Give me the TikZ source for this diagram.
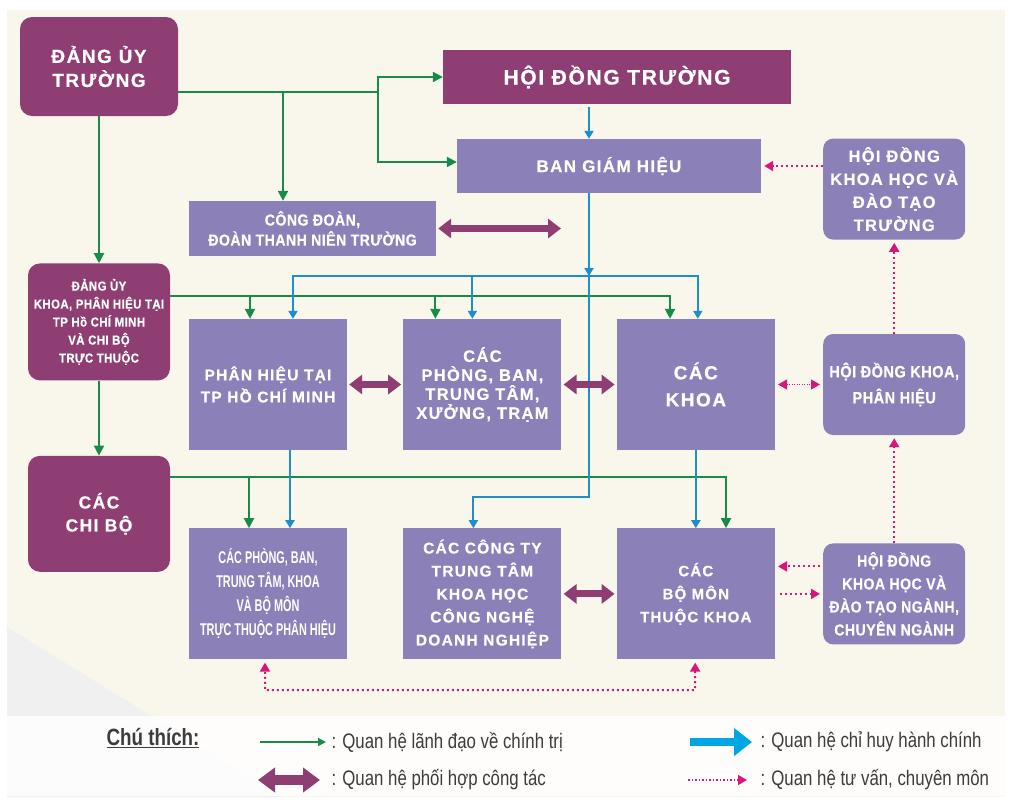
\documentclass[tikz,border=0pt]{standalone}
\usepackage{fontspec}
\setmainfont{Liberation Sans}
\newfontfamily\boxfont{Liberation Sans}[LetterSpace=8, BoldFeatures={FakeBold=0.6}]
\newfontfamily\narrowfont{Liberation Sans}[FakeStretch=0.88, LetterSpace=3, BoldFeatures={FakeBold=0.6}]
\newfontfamily\slimfont{Liberation Sans}[FakeStretch=0.64]
\newfontfamily\legfont{Liberation Sans}[FakeStretch=0.8]
\usetikzlibrary{arrows.meta, positioning}
\definecolor{mag}{RGB}{143,62,115}
\definecolor{lav}{RGB}{139,128,183}
\definecolor{leadgreen}{RGB}{22,140,72}
\definecolor{cmdblue}{RGB}{28,143,205}
\definecolor{advpink}{RGB}{214,22,122}
\definecolor{cream}{RGB}{249,247,236}
\definecolor{legblue}{RGB}{0,166,228}
\definecolor{legtext}{RGB}{60,60,60}
\tikzset{%
	party/.style={fill=mag, text=white, rounded corners=12pt, inner sep=0pt, align=center},
	unit/.style={fill=lav, text=white, inner sep=0pt, align=center},
	block/.style={unit, minimum width=158pt, minimum height=131pt},
	council/.style={unit, rounded corners=10pt, minimum width=142pt, minimum height=101pt},
	lead/.style={-{Triangle[width=10pt,length=10pt]}, line width=2pt, leadgreen},
	cmd/.style={-{Triangle[width=9pt,length=8pt]}, line width=2pt, cmdblue},
	coop/.style={{Triangle[width=19pt,length=13pt]}-{Triangle[width=19pt,length=13pt]}, line width=7pt, mag, shorten <=2pt, shorten >=2pt},
	adv/.style={-{Triangle[width=10pt,length=9pt]}, line width=2pt, advpink, dash pattern=on 2pt off 3pt, shorten >=3pt},
	legtxt/.style={anchor=west, text=legtext, font=\legfont\fontsize{21}{24}\selectfont}
}
\begin{document}
\begin{tikzpicture}[x=1pt, y=-1pt]
	\useasboundingbox (0,0) rectangle (1012,803);
	\fill[cream] (7,10) rectangle (1005,797);
	\fill[black!6] (7,627) -- (283,797) -- (7,797) -- cycle;

	\node[party, minimum width=158pt, minimum height=99pt, font=\boxfont\bfseries\fontsize{19}{24}\selectfont] (dut) at (99,66.5) {ĐẢNG ỦY\\TRƯỜNG};
	\node[party, sharp corners, minimum width=348pt, minimum height=54pt, font=\boxfont\bfseries\fontsize{21}{25}\selectfont] (hdt) at (617,77) {HỘI ĐỒNG TRƯỜNG};
	\node[unit, minimum width=304pt, minimum height=54pt, font=\boxfont\bfseries\fontsize{17}{20}\selectfont] (bgh) at (609,166) {BAN GIÁM HIỆU};
	\node[unit, minimum width=247pt, minimum height=55pt, font=\narrowfont\bfseries\fontsize{16}{20}\selectfont] (cd) at (312.5,228.5) {CÔNG ĐOÀN,\\ĐOÀN THANH NIÊN TRƯỜNG};
	\node[block, font=\boxfont\bfseries\fontsize{15.5}{22}\selectfont] (ph) at (268,384.5) {PHÂN HIỆU TẠI\\TP HỒ CHÍ MINH};
	\node[block, font=\boxfont\bfseries\fontsize{16.5}{19}\selectfont] (pb) [right=56pt of ph] {CÁC\\PHÒNG, BAN,\\TRUNG TÂM,\\XƯỞNG, TRẠM};
	\node[block, font=\boxfont\bfseries\fontsize{19}{27}\selectfont] (khoa) [right=55pt of pb] {CÁC\\KHOA};
	\node[council, font=\narrowfont\bfseries\fontsize{16.5}{26}\selectfont] (hd-k) [right=48pt of khoa] {HỘI ĐỒNG KHOA,\\PHÂN HIỆU};
	\node[council, font=\boxfont\bfseries\fontsize{16.5}{23}\selectfont] (hd-tr) [above=94pt of hd-k] {HỘI ĐỒNG\\KHOA HỌC VÀ\\ĐÀO TẠO\\TRƯỜNG};
	\node[block, font=\slimfont\bfseries\fontsize{17}{24}\selectfont] (pb-ph) [below=78pt of ph] {CÁC PHÒNG, BAN,\\TRUNG TÂM, KHOA\\VÀ BỘ MÔN\\TRỰC THUỘC PHÂN HIỆU};
	\node[block, font=\boxfont\bfseries\fontsize{15.5}{23}\selectfont] (ct) [below=78pt of pb] {CÁC CÔNG TY\\TRUNG TÂM\\KHOA HỌC\\CÔNG NGHỆ\\DOANH NGHIỆP};
	\node[block, font=\boxfont\bfseries\fontsize{15}{23}\selectfont] (bm) [below=78pt of khoa] {CÁC\\BỘ MÔN\\THUỘC KHOA};
	\node[council, font=\narrowfont\bfseries\fontsize{16}{23}\selectfont] (hd-ng) [right=48pt of bm] {HỘI ĐỒNG\\KHOA HỌC VÀ\\ĐÀO TẠO NGÀNH,\\CHUYÊN NGÀNH};
	\node[party, minimum width=142pt, minimum height=117pt, font=\narrowfont\bfseries\fontsize{13}{18}\selectfont] (duk) [below=147pt of dut] {ĐẢNG ỦY\\KHOA, PHÂN HIỆU TẠI\\TP Hồ CHÍ MINH\\VÀ CHI BỘ\\TRỰC THUỘC};
	\node[party, minimum width=142pt, minimum height=116pt, font=\boxfont\bfseries\fontsize{17.5}{23}\selectfont] (cb) [below=75pt of duk] {CÁC\\CHI BỘ};

	% lanh dao chinh tri
	\coordinate (g-top) at (378,92);
	\coordinate (g-cd) at (283,92);
	\coordinate (g-k) at (670,296);
	\coordinate (g-b) at (726,477);
	\draw[lead] (g-top -| dut.east) -- (g-top) |- (hdt);
	\draw[lead] (g-top) |- ([yshift=4pt]bgh.west);
	\draw[lead] (g-cd) -- (g-cd |- cd.north);
	\draw[lead] (dut) -- (duk);
	\draw[lead] (duk) -- (cb);
	\draw[lead] (g-k -| duk.east) -| (g-k |- khoa.north);
	\draw[lead] ([xshift=-18pt]ph.north |- g-k) -- ([xshift=-18pt]ph.north);
	\draw[lead] ([xshift=-47pt]pb.north |- g-k) -- ([xshift=-47pt]pb.north);
	\draw[lead] (g-b -| cb.east) -| (g-b |- bm.north);
	\draw[lead] ([xshift=-19pt]pb-ph.north |- g-b) -- ([xshift=-19pt]pb-ph.north);

	% chi huy hanh chinh
	\coordinate (b-bus) at (589,276);
	\coordinate (b-ct) at (589,497);
	\draw[cmd, shorten <=3pt] (b-bus |- hdt.south) -- (b-bus |- bgh.north);
	\draw[cmd] (b-bus |- bgh.south) -- (b-bus);
	\draw[cmd] (b-bus) -| ([xshift=25pt]ph.north);
	\draw[cmd] (b-bus) -| ([xshift=2pt]khoa.north);
	\draw[cmd] ([xshift=-10pt]pb.north |- b-bus) -- ([xshift=-10pt]pb.north);
	\draw[cmd] (b-bus) -- (b-ct) -| ([xshift=-9pt]ct.north);
	\draw[cmd] ([xshift=22pt]ph.south) -- ([xshift=22pt]pb-ph.north);
	\draw[cmd] (khoa) -- (bm);

	% phoi hop cong tac
	\coordinate (c-cd) at (563,228.5);
	\draw[coop] (cd) -- (c-cd);
	\draw[coop] (ph) -- (pb);
	\draw[coop] (pb) -- (khoa);
	\draw[coop] (ct) -- (bm);

	% tu van, chuyen mon
	\coordinate (d-bot) at (695,690);
	\draw[adv] (hd-tr.west |- bgh) -- (bgh);
	\draw[adv, line width=1pt, dash pattern=on 1pt off 1.5pt, shorten <=3pt, {Triangle[width=10pt,length=9pt]}-{Triangle[width=10pt,length=9pt]}] (khoa) -- (hd-k);
	\draw[adv, shorten <=3pt] ([yshift=27.5pt]hd-ng.west) -- ([yshift=27.5pt]bm.east);
	\draw[adv, shorten <=5pt] (bm) -- (hd-ng);
	\draw[adv] (hd-ng) -- (hd-k);
	\draw[adv] (hd-k) -- (hd-tr);
	\draw[adv, shorten <=3pt, {Triangle[width=10pt,length=9pt]}-{Triangle[width=10pt,length=9pt]}] (bm) -- (d-bot) -| ([xshift=-3pt]pb-ph.south);

	% chu thich
	\fill[white, opacity=0.85] (5,716) rectangle (1005,796);
	\node[anchor=west, text=legtext, font=\legfont\bfseries\fontsize{23.5}{26}\selectfont] (l-title) at (103,738) {\underline{Chú thích:}};
	\coordinate (l-g1) at (260,742);
	\coordinate (l-g2) at (326,742);
	\coordinate (l-b1) at (690,742);
	\coordinate (l-b2) at (752,742);
	\coordinate (l-c1) at (256,780);
	\coordinate (l-c2) at (322,780);
	\coordinate (l-a1) at (688,780);
	\coordinate (l-a2) at (750,780);
	\draw[lead, line width=1.5pt, -{Triangle[width=8pt,length=8pt]}] (l-g1) -- (l-g2);
	\draw[-{Triangle[width=27pt,length=18pt]}, line width=8pt, legblue] (l-b1) -- (l-b2);
	\draw[coop, line width=10pt, {Triangle[width=24pt,length=17pt]}-{Triangle[width=24pt,length=17pt]}] (l-c1) -- (l-c2);
	\draw[adv, line width=1.5pt, dash pattern=on 1.5pt off 2pt] (l-a1) -- (l-a2);
	\node[legtxt] (l-lead) at (328,742) {: Quan hệ lãnh đạo về chính trị};
	\node[legtxt] (l-cmd) at (757,742) {: Quan hệ chỉ huy hành chính};
	\node[legtxt] (l-coop) at (328,780) {: Quan hệ phối hợp công tác};
	\node[legtxt] (l-adv) at (757,780) {: Quan hệ tư vấn, chuyên môn};
\end{tikzpicture}
\end{document}
